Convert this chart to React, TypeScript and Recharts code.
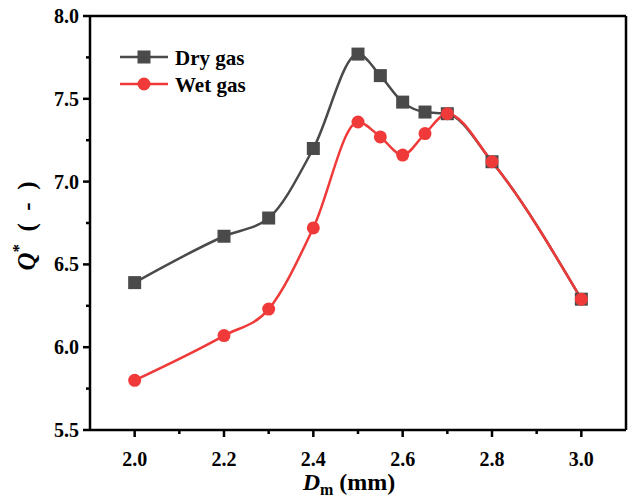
import React from 'react';
import {
  LineChart,
  Line,
  XAxis,
  YAxis,
  Legend,
  ReferenceLine,
} from 'recharts';

// 管径 D_m (mm)
const dm = [2.0, 2.2, 2.3, 2.4, 2.5, 2.55, 2.6, 2.65, 2.7, 2.8, 3.0];
const dryGas = [6.39, 6.67, 6.78, 7.2, 7.77, 7.64, 7.48, 7.42, 7.41, 7.12, 6.29];
const wetGas = [5.8, 6.07, 6.23, 6.72, 7.36, 7.27, 7.16, 7.29, 7.41, 7.12, 6.29];

const xTicks = [2.0, 2.1, 2.2, 2.3, 2.4, 2.5, 2.6, 2.7, 2.8, 2.9, 3.0];
const yTicks = [5.5, 5.75, 6.0, 6.25, 6.5, 6.75, 7.0, 7.25, 7.5, 7.75, 8.0];

const DRY = '#4a4a4a';
const WET = '#f03a3a';
const FONT = "'Liberation Serif', 'Times New Roman', serif";
const txt = { fontFamily: FONT, fontWeight: 700, whiteSpace: 'pre' } as React.CSSProperties;

const chartData = dm.map((x, i) => ({ x, dry: dryGas[i], wet: wetGas[i] }));

const XTick = (props: any) => {
  const { x, y, payload } = props;
  const major = Math.round(payload.value * 10) % 2 === 0;
  return (
    <g>
      <line x1={x} x2={x} y1={y} y2={y + (major ? 7 : 4)} stroke="#000" strokeWidth={2.5} />
      {major && (
        <text x={x} y={y + 36} textAnchor="middle" style={txt} fontSize={20} fill="#000">
          {payload.value.toFixed(1)}
        </text>
      )}
    </g>
  );
};

const YTick = (props: any) => {
  const { x, y, payload } = props;
  const major = Math.round(payload.value * 100) % 50 === 0;
  return (
    <g>
      <line x1={x} x2={x - (major ? 7 : 4)} y1={y} y2={y} stroke="#000" strokeWidth={2.5} />
      {major && (
        <text x={x - 11} y={y + 7} textAnchor="end" style={txt} fontSize={20} fill="#000">
          {payload.value.toFixed(1)}
        </text>
      )}
    </g>
  );
};

const SquareDot = (props: any) => {
  const { cx, cy, fill } = props;
  if (cx == null || cy == null) return null;
  return <rect x={cx - 6.5} y={cy - 6.5} width={13} height={13} fill={fill} />;
};

const CircleDot = (props: any) => {
  const { cx, cy, fill } = props;
  if (cx == null || cy == null) return null;
  return <circle cx={cx} cy={cy} r={6.5} fill={fill} />;
};

const LegendBox = () => (
  <svg width={160} height={60} style={{ overflow: 'visible' }}>
    <line x1={2} x2={50} y1={13} y2={13} stroke={DRY} strokeWidth={2.5} />
    <rect x={19.5} y={6.5} width={13} height={13} fill={DRY} />
    <text x={57} y={21} style={txt} fontSize={21} fill="#000">
      Dry gas
    </text>
    <line x1={2} x2={50} y1={40} y2={40} stroke={WET} strokeWidth={2.5} />
    <circle cx={26} cy={40} r={6.5} fill={WET} />
    <text x={57} y={48} style={txt} fontSize={21} fill="#000">
      Wet gas
    </text>
  </svg>
);

const App: React.FC = () => {
  return (
    <div style={{ position: 'absolute', left: 0, top: 0, background: '#fff' }}>
      <LineChart
        width={633}
        height={502}
        data={chartData}
        margin={{ top: 16, right: 7, left: 0, bottom: 0 }}
      >
        <XAxis
          dataKey="x"
          type="number"
          domain={[1.9, 3.1]}
          ticks={xTicks}
          interval={0}
          tick={<XTick />}
          tickLine={false}
          tickSize={0}
          tickMargin={0}
          axisLine={{ stroke: '#000', strokeWidth: 2.5 }}
          height={72}
          allowDataOverflow
          label={{
            content: () => (
              <text x={349} y={490} textAnchor="middle" style={txt} fontSize={24} fill="#000">
                <tspan fontStyle="italic">D</tspan>
                <tspan fontSize={16} dy={5}>m</tspan>
                <tspan dy={-5}> (mm)</tspan>
              </text>
            ),
          }}
        />
        <YAxis
          type="number"
          domain={[5.5, 8.0]}
          ticks={yTicks}
          interval={0}
          tick={<YTick />}
          tickLine={false}
          tickSize={0}
          tickMargin={0}
          axisLine={{ stroke: '#000', strokeWidth: 2.5 }}
          width={90}
          allowDataOverflow
          label={{
            content: () => (
              <text
                x={0}
                y={0}
                transform="translate(35, 226) rotate(-90)"
                textAnchor="middle"
                style={txt}
                fontSize={25}
                fill="#000"
              >
                <tspan fontStyle="italic">Q</tspan>
                <tspan fontSize={17} dy={-11}>*</tspan>
                <tspan dy={11}>{'\u00a0\u00a0(\u00a0\u00a0-\u00a0\u00a0)'}</tspan>
              </text>
            ),
          }}
        />
        <ReferenceLine y={8} stroke="#000" strokeWidth={2.5} />
        <ReferenceLine x={3.1} stroke="#000" strokeWidth={2.5} />
        <Legend
          layout="horizontal"
          verticalAlign="middle"
          align="center"
          content={() => <LegendBox />}
          wrapperStyle={{ position: 'absolute', left: 118, top: 44, width: 160, height: 60 }}
        />
        <Line
          type="monotone"
          dataKey="dry"
          name="Dry gas"
          stroke={DRY}
          strokeWidth={2.5}
          fill={DRY}
          dot={<SquareDot />}
          activeDot={false}
          isAnimationActive={false}
        />
        <Line
          type="monotone"
          dataKey="wet"
          name="Wet gas"
          stroke={WET}
          strokeWidth={2.5}
          fill={WET}
          dot={<CircleDot />}
          activeDot={false}
          isAnimationActive={false}
        />
      </LineChart>
    </div>
  );
};

export default App;
